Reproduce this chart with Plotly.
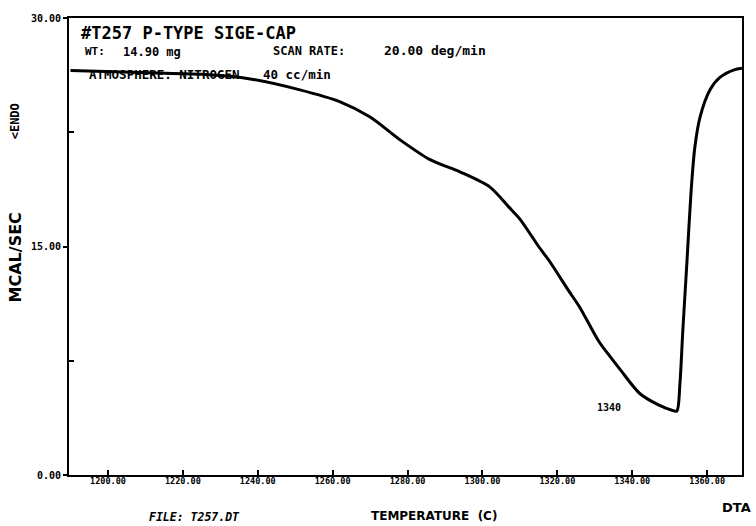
import plotly.graph_objects as go

# ---- data ----
temperature = [1190, 1211, 1225, 1238, 1251, 1262, 1270, 1278, 1286, 1294, 1302, 1307,
               1310, 1315, 1318, 1323, 1326, 1331, 1334, 1337, 1342, 1347, 1350.6, 1351.9,
               1352.7, 1353.5, 1354.6, 1355.7, 1356.7, 1358.1, 1360.8, 1363.4, 1367.2, 1369.3]
heat_flow = [26.55, 26.4, 26.3, 26.0, 25.3, 24.5, 23.5, 22.0, 20.7, 19.9, 18.9, 17.6,
             16.8, 15.0, 14.0, 12.1, 11.0, 8.8, 7.8, 6.85, 5.35, 4.6, 4.25, 4.2,
             5.9, 9.5, 14.0, 18.6, 21.5, 23.5, 25.3, 26.1, 26.6, 26.7]
x_ticks = [1200, 1220, 1240, 1260, 1280, 1300, 1320, 1340, 1360]
y_ticks = [0, 15, 30]
peak_label = "1340"

FONT = "DejaVu Sans"
MONO = "DejaVu Sans Mono"

fig = go.Figure()
fig.add_trace(go.Scatter(x=temperature, y=heat_flow, mode="lines",
                         line=dict(color="black", width=3, shape="spline", smoothing=0.8),
                         hoverinfo="skip", showlegend=False))

W, H = 756, 526
L, R, T, B = 69, 14, 15, 51
pw, ph = W - L - R, H - T - B

def px(x):
    return (x - L) / pw

def py(y):
    return (H - B - y) / ph

def ann(text, x, y, size, xanchor="left", angle=0, italic=False, family=FONT):
    t = f"<b>{text}</b>"
    if italic:
        t = f"<i>{t}</i>"
    fig.add_annotation(text=t, xref="paper", yref="paper", x=px(x), y=py(y),
                       xanchor=xanchor, yanchor="middle", showarrow=False, textangle=angle,
                       font=dict(family=family, size=size, color="black"))

ann("#T257 P-TYPE SIGE-CAP", 79, 30, 17, family=MONO)
ann("WT:", 83, 49, 11, family=MONO)
ann("14.90 mg", 121, 49, 12, family=MONO)
ann("SCAN RATE:", 271, 48, 12, family=MONO)
ann("20.00 deg/min", 382, 48, 13, family=MONO)
ann("ATMOSPHERE: NITROGEN", 87, 72, 12.5, family=MONO)
ann("40 cc/min", 261, 72, 12.5, family=MONO)
ann(peak_label, 595, 407, 10, family=MONO)
ann("&lt;ENDO", 15, 119, 12, xanchor="center", angle=-90, family=MONO)
ann("MCAL/SEC", 15, 256, 16, xanchor="center", angle=-90, family=FONT)
ann("FILE: T257.DT", 147, 517, 11.5, italic=True, family=MONO)
ann("TEMPERATURE  (C)", 369, 516, 12, family=FONT)
ann("DTA", 720, 508, 13, family=FONT)

fig.update_layout(
    width=W, height=H,
    margin=dict(l=L, r=R, t=T, b=B),
    paper_bgcolor="white", plot_bgcolor="white",
    xaxis=dict(range=[1189.6, 1369.3], tickvals=x_ticks, tickformat=".2f",
               ticks="inside", ticklen=5, tickwidth=2, tickcolor="black",
               ticklabelstandoff=-3,
               showline=True, linecolor="black", linewidth=2, mirror=True,
               showgrid=False, zeroline=False,
               tickfont=dict(family=MONO, size=8.5, color="black", weight="bold")),
    yaxis=dict(range=[0, 30], tickvals=y_ticks, tickformat=".2f",
               ticks="outside", ticklen=4, tickwidth=2, tickcolor="black",
               minor=dict(tickvals=[7.5, 22.5], ticks="inside", ticklen=5,
                          tickwidth=2, tickcolor="black"),
               showline=True, linecolor="black", linewidth=2, mirror=True,
               showgrid=False, zeroline=False,
               tickfont=dict(family=MONO, size=10, color="black", weight="bold")),
)

fig.write_html("out.html", config={"displayModeBar": False},
               post_script="document.body.style.margin='0';")
